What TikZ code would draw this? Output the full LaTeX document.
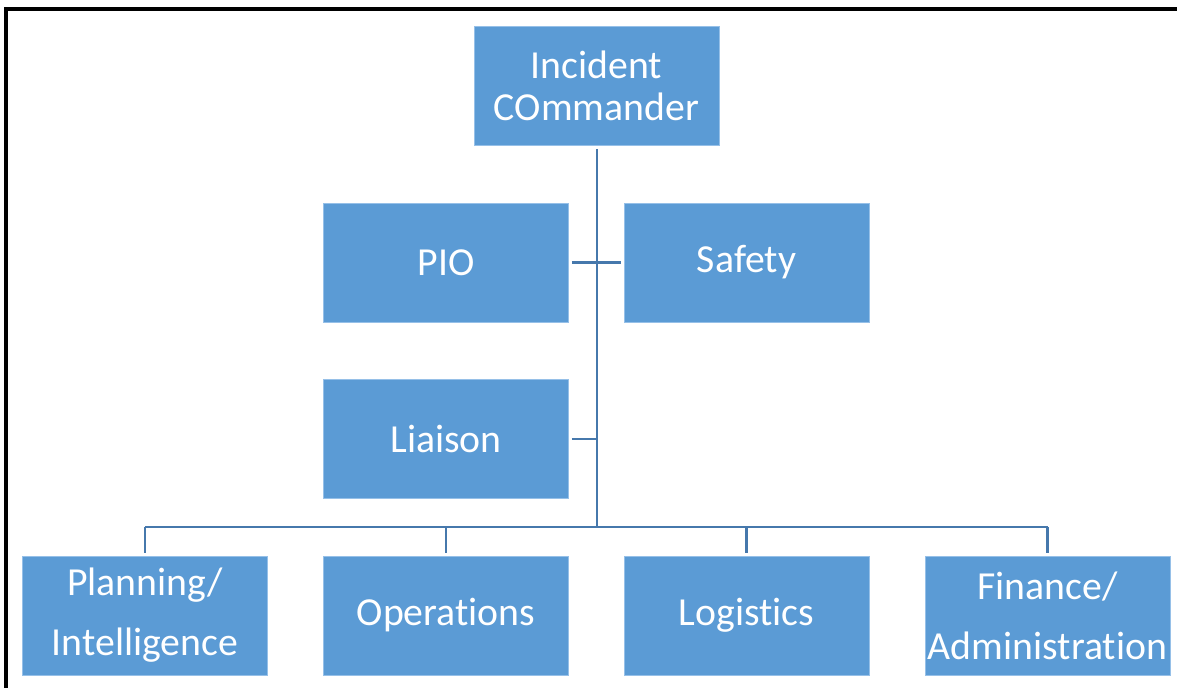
\documentclass[tikz,border=0pt]{standalone}
\usepackage{fontspec}
\setmainfont{Carlito}[Ligatures={NoCommon,NoRare}]
\definecolor{boxblue}{RGB}{91,155,213}
\definecolor{boxedge}{RGB}{150,192,232}
\definecolor{linkblue}{RGB}{70,120,172}
\begin{document}
\begin{tikzpicture}[x=0.75pt,y=-0.75pt,
  orgbox/.style={fill=boxblue,draw=boxedge,line width=0.6pt,text=white,
    minimum width=245*0.75pt,minimum height=119*0.75pt,inner sep=0pt,
    align=center,font=\fontsize{29.8}{32}\selectfont},
  twoline/.style={font=\fontsize{29.8}{45}\selectfont},
  link/.style={draw=linkblue,line width=1.9pt}]
\useasboundingbox (0,0) rectangle (1177,688);
\fill[white] (0,0) rectangle (1177,688);
\draw[line width=2.4pt,black] (6,689) -- (6,9) -- (1178,9);

\node[orgbox] (ic) at (596.5,86) {Incident\\COmmander};
\node[orgbox] (pio) at (446,262.5) {PIO};
\node[orgbox] (safety) at (746.5,262.5) {Safety};
\node[orgbox] (liaison) at (446,439) {Liaison};
\node[orgbox,twoline] (plan) at (145,615.5) {Planning/\\Intelligence};
\node[orgbox] (ops) at (446,615.5) {Operations};
\node[orgbox] (log) at (746.5,615.5) {Logistics};
\node[orgbox,twoline] (fin) at (1047.5,615.5) {Finance/\\Administration};

\coordinate (bus) at (597,527);

\draw[link,shorten <=2.25pt] (ic.south -| bus) -- (bus);
\draw[link,shorten <=2.25pt,shorten >=2.25pt] (pio.east) -- (safety.west);
\draw[link,shorten <=2.25pt] (liaison.east) -- (liaison.east -| bus);
\draw[link] (plan.north |- bus) -- (fin.north |- bus);
\foreach \n in {plan,ops,log,fin}
  \draw[link,shorten >=2.25pt] (\n.north |- bus) -- (\n.north);
\end{tikzpicture}
\end{document}
